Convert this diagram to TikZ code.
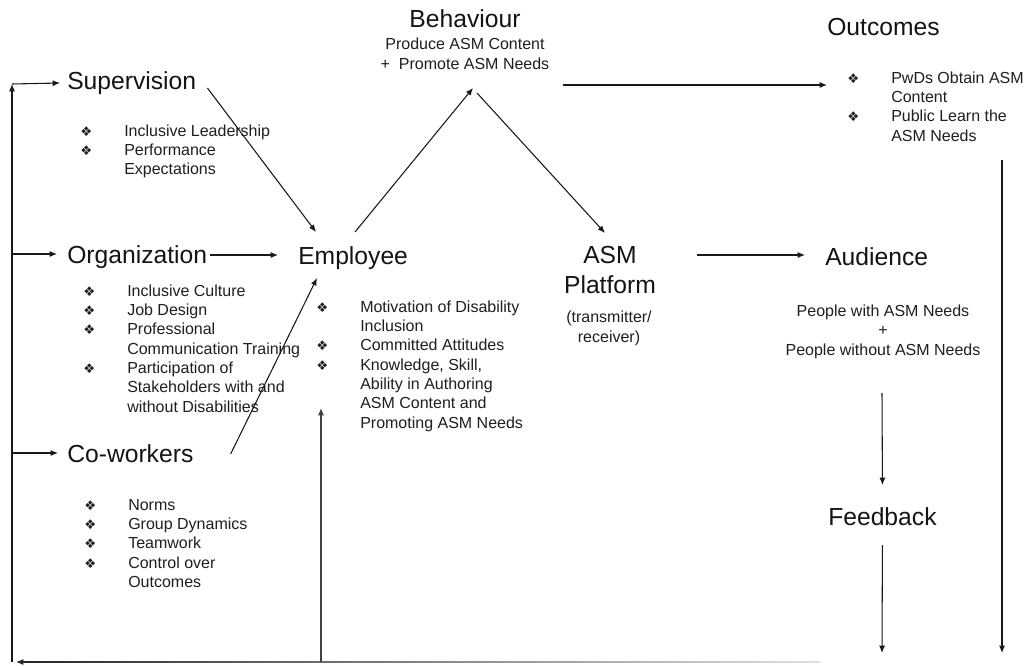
\documentclass[tikz,border=0pt]{standalone}
\usepackage{fontspec}
\setmainfont{Liberation Sans}
\newfontfamily\dingfont{DejaVu Sans}
\usetikzlibrary{arrows.meta,calc}

% diamond bullet and two-column bullet list
\newcommand{\bul}{{\dingfont\fontsize{10}{10}\selectfont\raisebox{0pt}{❖}}}
\newcommand{\blist}[1]{{\fontsize{12}{14.5}\selectfont\begin{tabular}[t]{@{}p{33pt}@{}l@{}}#1\end{tabular}}}

\tikzset{
  title/.style={font=\fontsize{18.5}{22.5}\selectfont, inner sep=0pt, anchor=base west, text=black!92},
  small/.style={font=\fontsize{12}{14.6}\selectfont, inner sep=0pt, anchor=base, align=center, text=black!88},
  list/.style={inner sep=0pt, anchor=base west, text=black!88},
  arr/.style={-{Latex[length=5.5pt,width=4.5pt]}, line width=0.8pt, draw=black!90},
}

\begin{document}
\begin{tikzpicture}[x=0.75pt, y=-0.75pt]
\fill[white] (0,0) rectangle (1027,665);
\useasboundingbox (0,0) rectangle (1027,665);

% antecedents
\node[title] (sup) at (67,89) {Supervision};
\node[list] (supl) at (80,136) {\blist{\bul & Inclusive Leadership\\ \bul & Performance\\ & Expectations}};

\node[title] (org) at (67,263) {Organization};
\node[list] (orgl) at (83,296) {\blist{\bul & Inclusive Culture\\ \bul & Job Design\\ \bul & Professional\\ & Communication Training\\ \bul & Participation of\\ & Stakeholders with and\\ & without Disabilities}};

\node[title] (cow) at (67,462) {Co-workers};
\node[list] (cowl) at (84,510) {\blist{\bul & Norms\\ \bul & Group Dynamics\\ \bul & Teamwork\\ \bul & Control over\\ & Outcomes}};

% employee
\node[title] (emp) at (298,264) {Employee};
\node[list] (empl) at (316,312) {\blist{\bul & Motivation of Disability\\ & Inclusion\\ \bul & Committed Attitudes\\ \bul & Knowledge, Skill,\\ & Ability in Authoring\\ & ASM Content and\\ & Promoting ASM Needs}};

% behaviour (multi-line nodes sit on their last baseline)
\node[title, anchor=base] (beh) at (465,27) {Behaviour};
\node[small, font=\fontsize{12}{15}\selectfont] (behl) at (465,69) {Produce ASM Content\\+\ \ Promote ASM Needs};

% platform
\node[title, anchor=base, align=center] (asm) at (610,293) {ASM\\Platform};
\node[small, font=\fontsize{12}{15}\selectfont] (asml) at (609,342) {(transmitter/\\receiver)};

% outcomes, audience, feedback
\node[title] (out) at (827,35) {Outcomes};
\node[list] (outl) at (847,83) {\blist{\bul & PwDs Obtain ASM\\ & Content\\ \bul & Public Learn the\\ & ASM Needs}};

\node[title] (aud) at (825,265) {Audience};
\node[small] (audl) at (883,355) {People with ASM Needs\\+\\People without ASM Needs};

\node[title] (fb) at (828,525) {Feedback};

% loose ends of the feedback loop
\coordinate (lT) at (12,84);
\coordinate (lB) at (12,662);
\coordinate (bL) at (16,662);
\coordinate (bR) at (820,662);
\coordinate (bEmp) at (321,662);
\coordinate (fbEnd) at (882,653);
\coordinate (outEnd) at (1002,653);
\coordinate (orgIn) at ($(org.base west)+(-10,-9)$);
\coordinate (cowIn) at ($(cow.base west)+(-9,-9)$);

% into the employee
\draw[arr] ($(sup.base east)+(11,-1)$) -- ($(emp.base west)+(18,-32)$);
\draw[arr] ($(org.base east)+(3,-8)$) -- ($(emp.base west)+(-20,-9)$);
\draw[arr] ($(cow.base east)+(37,-8)$) -- ($(emp.base west)+(19,14)$);

% behaviour chain
\draw[arr] ($(emp.base west)+(57,-32)$) -- ($(beh.base)+(8,61)$);
\draw[arr] ($(beh.base)+(12,66)$) -- ($(asm.base)+(-5,-60)$);
\draw[arr] ($(beh.base)+(98,58)$) -- ($(out.base west)+(0,50)$);
\draw[arr] ($(asm.base)+(87,-38)$) -- ($(aud.base west)+(-20,-10)$);
\draw[arr] ($(audl.base)+(-1,38)$) -- ($(fb.base)+(0,-40)$);
\draw[arr] ($(fb.base)+(0,20)$) -- (fbEnd);
\draw[arr] ($(outl.base west)+(155,77)$) -- (outEnd);

% feedback loop back to the antecedents
\shade[left color=black!85, right color=black!12] ($(bL)+(4,-0.7)$) rectangle ($(bR)+(0,0.7)$);
\draw[arr, draw=black!85] ($(bL)+(8,0)$) -- (bL);
\draw[arr, draw=black!75] (bEmp) -- ($(empl.base west)+(5,96)$);
\draw[arr] (lB) -- (lT);
\draw[arr] (lT) -- ($(sup.base west)+(-7,-6)$);
\draw[arr] (orgIn -| lB) -- (orgIn);
\draw[arr] (cowIn -| lB) -- (cowIn);
\end{tikzpicture}
\end{document}
